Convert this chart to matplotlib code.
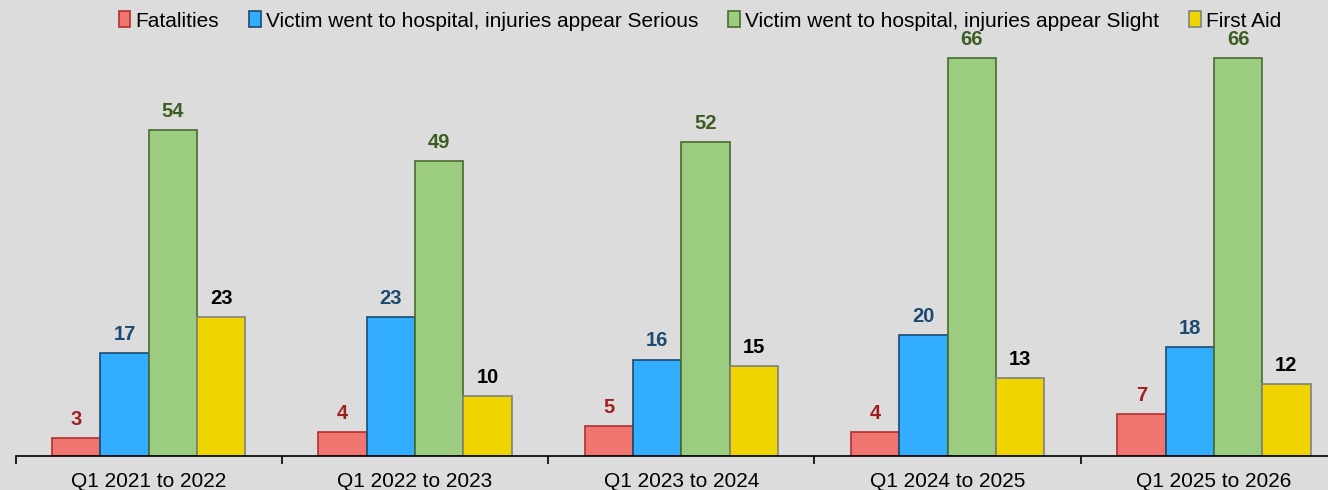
import matplotlib.pyplot as plt
import numpy as np

plt.rcParams['font.family'] = ['Liberation Sans', 'DejaVu Sans']

# periods and counts per severity
periods = ['Q1 2021 to 2022', 'Q1 2022 to 2023', 'Q1 2023 to 2024',
           'Q1 2024 to 2025', 'Q1 2025 to 2026']
fatalities = [3, 4, 5, 4, 7]
serious = [17, 23, 16, 20, 18]
slight = [54, 49, 52, 66, 66]
first_aid = [23, 10, 15, 13, 12]

series = [
    ('Fatalities', fatalities, '#f07470', '#b0302c', '#a02020'),
    ('Victim went to hospital, injuries appear Serious', serious, '#33adff', '#1c4a70', '#1c4a70'),
    ('Victim went to hospital, injuries appear Slight', slight, '#9ccc80', '#4a6a30', '#3d5e22'),
    ('First Aid', first_aid, '#f0d400', '#808080', '#000000'),
]

bg = '#dcdcdc'
fig = plt.figure(figsize=(13.28, 4.9), dpi=100, facecolor=bg)
ax = fig.add_axes([15.5 / 1328, 34 / 490, 1 - 15.5 / 1328, 456 / 490])
ax.set_facecolor(bg)

x = np.arange(len(periods))
w = 0.1815
for i, (name, vals, fc, ec, tc) in enumerate(series):
    pos = x + (i - 1.5) * w
    ax.bar(pos, vals, w, color=fc, edgecolor=ec, linewidth=1.2, label=name)
    for xp, v in zip(pos, vals):
        ax.annotate(str(v), (xp, v), xytext=(0, 6.5), textcoords='offset points',
                    ha='center', va='bottom', fontsize=14.5, fontweight='bold', color=tc)

for s in ['top', 'right', 'left']:
    ax.spines[s].set_visible(False)
ax.spines['bottom'].set_linewidth(1.2)
ax.set_yticks([])
ax.set_xticks(np.arange(len(periods)) - 0.5)
ax.set_xticklabels([])
ax.tick_params(axis='x', length=6, width=1.2, direction='out')
ax.set_xlim(-0.5, 1312.5 / 266.3 - 0.5)
ax.set_ylim(0, 456 / 6.03)
for xi, lab in zip(x, periods):
    ax.text(xi, -0.035, lab, transform=ax.get_xaxis_transform(), ha='center', va='top',
            fontsize=15)

fig.legend(loc='upper center', bbox_to_anchor=(0.527, 1.0), ncol=4, frameon=False,
           fontsize=15, handlelength=0.55, handleheight=0.8, handletextpad=0.25,
           columnspacing=1.45, borderaxespad=0.15)

fig.savefig('out.png', dpi=100, facecolor=bg)
